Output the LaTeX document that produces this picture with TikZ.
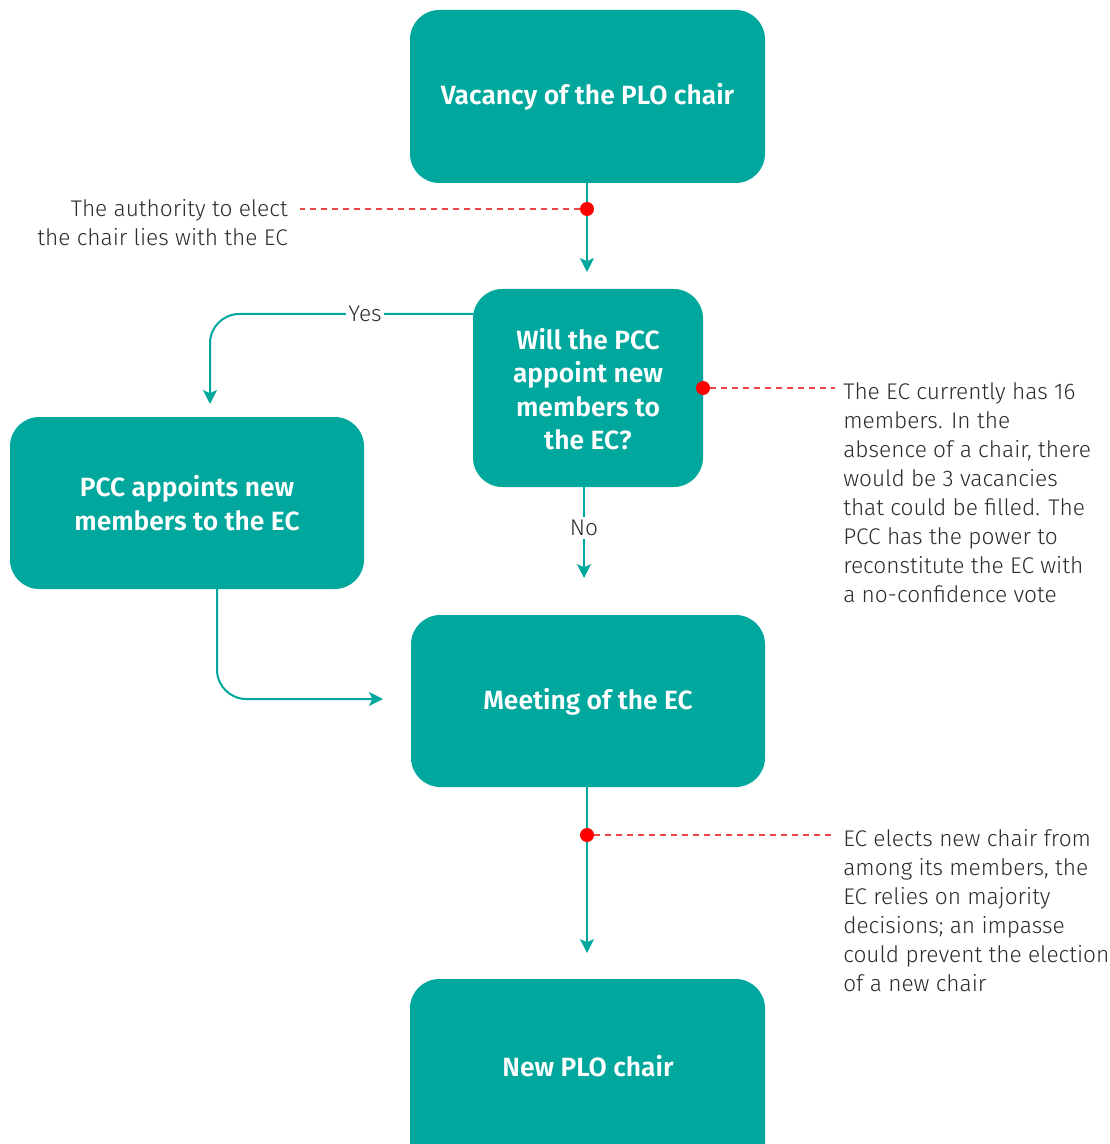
\documentclass[tikz,border=0pt]{standalone}
\usepackage{fontspec}
\setmainfont{Fira Sans}[UprightFont=* Light, BoldFont=* SemiBold]
\usetikzlibrary{arrows.meta}
\definecolor{teal}{HTML}{00A79D}
\definecolor{txt}{HTML}{2B2B2B}
\definecolor{dotred}{HTML}{FF0000}
\definecolor{dashred}{HTML}{F04545}
\begin{document}
\begin{tikzpicture}[x=0.75pt,y=-0.75pt,
  box/.style={fill=teal,rounded corners=22pt,inner sep=0pt,text=white,
    font=\bfseries\fontsize{19.8}{25}\selectfont,align=center},
  flow/.style={draw=teal,line width=1.5pt,-{Stealth[length=10.5pt,width=10.5pt,inset=2.5pt]}},
  note/.style={text=txt,font=\fontsize{17}{21.75}\selectfont,inner sep=0pt},
  reddot/.style={circle,fill=dotred,minimum size=10.5pt,inner sep=0pt},
  leader/.style={draw=dashred,line width=0.8pt,dash pattern=on 4.5pt off 3.75pt},
  lbl/.style={fill=white,text=txt,font=\fontsize{17}{20}\selectfont,inner sep=2pt}]
\useasboundingbox (0,0) rectangle (1109,1144);
% boxes
\path[box] (410,10) rectangle (765,183);
\node[box] (b1) at (587.5,96.5) {Vacancy of the PLO chair};
\path[box] (473,289) rectangle (703,487);
\node[box] (b2) at (588,389) {Will the PCC\\appoint new\\members to\\the EC?};
\path[box] (10,417) rectangle (364,589);
\node[box] (b3) at (187,503) {PCC appoints new\\members to the EC};
\path[box] (411,615) rectangle (765,787);
\node[box] (b4) at (588,702) {Meeting of the EC};
\path[box] (410,979) rectangle (765,1200);
\node[box] (b5) at (588,1066) {New PLO chair};
% anchor coordinates
\coordinate (b1s) at (587,183);
\coordinate (a1) at (587,272);
\coordinate (b2w) at (473,314);
\coordinate (ya) at (210,404);
\coordinate (b2s) at (584,487);
\coordinate (na) at (584,578);
\coordinate (b3s) at (217,589);
\coordinate (la) at (383,699);
\coordinate (b4s) at (587,787);
\coordinate (ba) at (587,953);
% connectors
\draw[flow] (b1s) -- (a1);
\draw[flow,rounded corners=22pt] (b2w) -- (210,314) -- (ya);
\node[lbl] (yes) at (365,314) {Yes};
\draw[flow] (b2s) -- (na);
\node[lbl] (no) at (584,528) {No};
\draw[flow,rounded corners=22pt] (b3s) -- (217,699) -- (la);
\draw[flow] (b4s) -- (ba);
% notes
\node[reddot] (d1) at (587,209) {};
\node[note,anchor=base east,align=right] (n1) at (288,246) {The authority to elect\\the chair lies with the EC};
\draw[leader] (d1) -- (300,209);
\node[reddot] (d2) at (703,388) {};
\node[note,anchor=base west,align=left] (n2) at (843,602) {The EC currently has 16\\members. In the\\absence of a chair, there\\would be 3 vacancies\\that could be filled. The\\PCC has the power to\\reconstitute the EC with\\a no-confidence vote};
\draw[leader] (d2) -- (835,388);
\node[reddot] (d3) at (587,835) {};
\node[note,anchor=base west,align=left] (n3) at (843,991) {EC elects new chair from\\among its members, the\\EC relies on majority\\decisions; an impasse\\could prevent the election\\of a new chair};
\draw[leader] (d3) -- (835,835);
\end{tikzpicture}
\end{document}
